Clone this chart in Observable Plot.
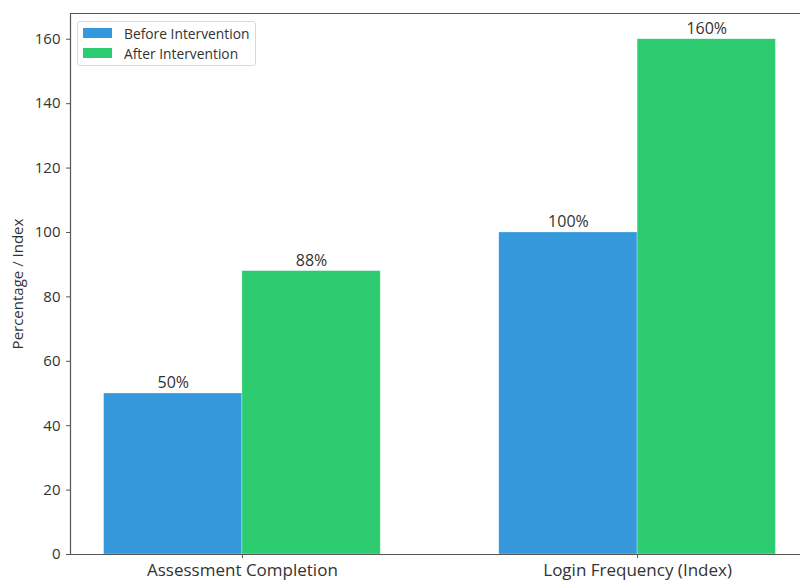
<!DOCTYPE html>
<html>
<head>
<meta charset="utf-8">
<script src="https://cdn.jsdelivr.net/npm/d3@7"></script>
<script src="https://cdn.jsdelivr.net/npm/@observablehq/plot@0.6"></script>
<style>
  html, body { margin: 0; padding: 0; background: #fff; }
  #wrap { position: relative; width: 800px; height: 581px; overflow: hidden; font-family: "Open Sans", Roboto, sans-serif; }
  #legend { position: absolute; left: 77px; top: 21px; width: 179px; height: 45px; border: 1px solid #d9d9d9; border-radius: 3px; background: rgba(255,255,255,0.85); box-sizing: border-box; }
  .item { position: absolute; left: 5px; height: 12px; display: flex; align-items: center; font-size: 13.8px; color: #333; white-space: nowrap; }
  .sw { width: 29px; height: 10px; margin-right: 12px; }
</style>
</head>
<body>
<div id="wrap"></div>
<script>
const categories = ["Assessment Completion", "Login Frequency (Index)"];
const series = ["Before Intervention", "After Intervention"];
const beforeValues = [50, 100];
const afterValues = [88, 160];
const colors = ["#3498db", "#2ecc71"];
const yTicks = [0, 20, 40, 60, 80, 100, 120, 140, 160];

const barW = 0.35;
const rows = [];
categories.forEach((c, i) => {
  rows.push({i, s: 0, series: series[0], value: beforeValues[i]});
  rows.push({i, s: 1, series: series[1], value: afterValues[i]});
});
const left = d => d.i + (d.s === 0 ? -barW : 0);
const right = d => d.i + (d.s === 0 ? 0 : barW);
const xMin = -barW - 0.085, xMax = 1 + barW + 0.085;
const yMax = 168;

const chart = Plot.plot({
  width: 800,
  height: 581,
  marginTop: 13,
  marginBottom: 27,
  marginLeft: 70,
  marginRight: 0,
  style: {fontFamily: "'Open Sans', Roboto, sans-serif", color: "#333", background: "#fff"},
  x: {type: "linear", domain: [xMin, xMax], range: [70, 809]},
  y: {domain: [0, yMax], range: [554, 13]},
  color: {domain: series, range: colors},
  marks: [
    Plot.rectY(rows, {x1: left, x2: right, y1: 0, y2: "value", fill: "series", stroke: "#fff", strokeWidth: 0.5, strokeOpacity: 0.6}),
    Plot.text(rows, {x: d => (left(d) + right(d)) / 2, y: "value", text: d => d.value + "%", lineAnchor: "bottom", dy: -5, fontSize: 16, fill: "#333"}),
    Plot.ruleY([0], {stroke: "#555", strokeWidth: 1.2}),
    Plot.ruleY([yMax], {stroke: "#555", strokeWidth: 1.2}),
    Plot.ruleX([xMin], {stroke: "#555", strokeWidth: 1.2}),
    Plot.axisY({ticks: yTicks, tickSize: 4, tickPadding: 6, fontSize: 15, stroke: "#555",
      label: "Percentage / Index", labelAnchor: "center", labelArrow: "none", labelOffset: 58}),
    Plot.axisX({ticks: [0, 1], tickFormat: i => categories[i], tickSize: 4, tickPadding: 5, fontSize: 17, stroke: "#555", label: null})
  ]
});
const wrap = document.getElementById("wrap");
wrap.appendChild(chart);

const legend = document.createElement("div");
legend.id = "legend";
series.forEach((s, k) => {
  const it = document.createElement("div");
  it.className = "item";
  it.style.top = (5 + k * 20) + "px";
  const sw = document.createElement("span");
  sw.className = "sw";
  sw.style.background = colors[k];
  const t = document.createElement("span");
  t.textContent = s;
  it.appendChild(sw); it.appendChild(t);
  legend.appendChild(it);
});
wrap.appendChild(legend);
</script>
</body>
</html>
